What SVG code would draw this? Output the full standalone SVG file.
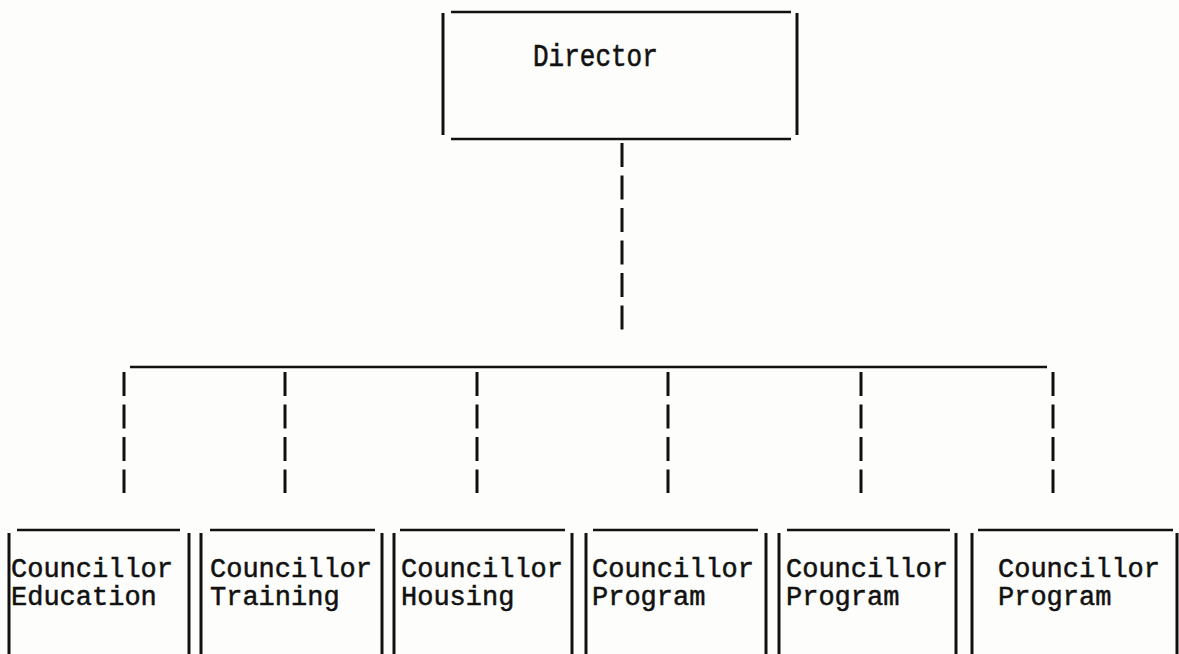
<svg xmlns="http://www.w3.org/2000/svg" width="1179" height="654" viewBox="0 0 1179 654">
<style>
.ln{stroke:#111;stroke-width:2.5;fill:none;stroke-linecap:butt}
.bar{stroke:#111;stroke-width:3;fill:none}
.dash{stroke:#111;stroke-width:3;fill:none;stroke-dasharray:24 8.5}
.t{font-family:"Liberation Mono","DejaVu Sans Mono",monospace;fill:#111;stroke:#111;stroke-width:0.5}
.c{font-size:27px}
</style>
<rect width="1179" height="654" fill="#fdfdfb"/>
<g id="director">
<line class="ln" x1="451" y1="12" x2="791" y2="12"/>
<line class="ln" x1="451" y1="139" x2="791" y2="139"/>
<line class="bar" x1="443" y1="13" x2="443" y2="135"/>
<line class="bar" x1="797" y1="13" x2="797" y2="135"/>
<text class="t" font-size="26" transform="translate(533,66) scale(1,1.2)">Director</text>
</g>
<g id="connectors">
<line class="dash" x1="622" y1="143" x2="622" y2="330"/>
<line class="ln" x1="130" y1="367" x2="1047" y2="367"/>
<line class="dash" x1="124" y1="372" x2="124" y2="493"/>
<line class="dash" x1="285" y1="372" x2="285" y2="493"/>
<line class="dash" x1="477" y1="372" x2="477" y2="493"/>
<line class="dash" x1="668" y1="372" x2="668" y2="493"/>
<line class="dash" x1="861" y1="372" x2="861" y2="493"/>
<line class="dash" x1="1053" y1="372" x2="1053" y2="493"/>
</g>
<g id="c1">
<line class="ln" x1="17" y1="530" x2="180" y2="530"/>
<line class="bar" x1="9" y1="533" x2="9" y2="654"/>
<line class="bar" x1="189" y1="533" x2="189" y2="654"/>
<text class="t c" x="11" y="577">Councillor</text>
<text class="t c" x="11" y="605">Education</text>
</g>
<g id="c2">
<line class="ln" x1="210" y1="530" x2="375" y2="530"/>
<line class="bar" x1="201" y1="533" x2="201" y2="654"/>
<line class="bar" x1="382" y1="533" x2="382" y2="654"/>
<text class="t c" x="210" y="577">Councillor</text>
<text class="t c" x="210" y="605">Training</text>
</g>
<g id="c3">
<line class="ln" x1="400" y1="530" x2="565" y2="530"/>
<line class="bar" x1="394" y1="533" x2="394" y2="654"/>
<line class="bar" x1="572" y1="533" x2="572" y2="654"/>
<text class="t c" x="401" y="577">Councillor</text>
<text class="t c" x="401" y="605">Housing</text>
</g>
<g id="c4">
<line class="ln" x1="593" y1="530" x2="758" y2="530"/>
<line class="bar" x1="586" y1="533" x2="586" y2="654"/>
<line class="bar" x1="766" y1="533" x2="766" y2="654"/>
<text class="t c" x="592" y="577">Councillor</text>
<text class="t c" x="592" y="605">Program</text>
</g>
<g id="c5">
<line class="ln" x1="787" y1="530" x2="950" y2="530"/>
<line class="bar" x1="779" y1="533" x2="779" y2="654"/>
<line class="bar" x1="956" y1="533" x2="956" y2="654"/>
<text class="t c" x="786" y="577">Councillor</text>
<text class="t c" x="786" y="605">Program</text>
</g>
<g id="c6">
<line class="ln" x1="978" y1="530" x2="1173" y2="530"/>
<line class="bar" x1="972" y1="533" x2="972" y2="654"/>
<line class="bar" x1="1177" y1="533" x2="1177" y2="654"/>
<text class="t c" x="998" y="577">Councillor</text>
<text class="t c" x="998" y="605">Program</text>
</g>
</svg>
